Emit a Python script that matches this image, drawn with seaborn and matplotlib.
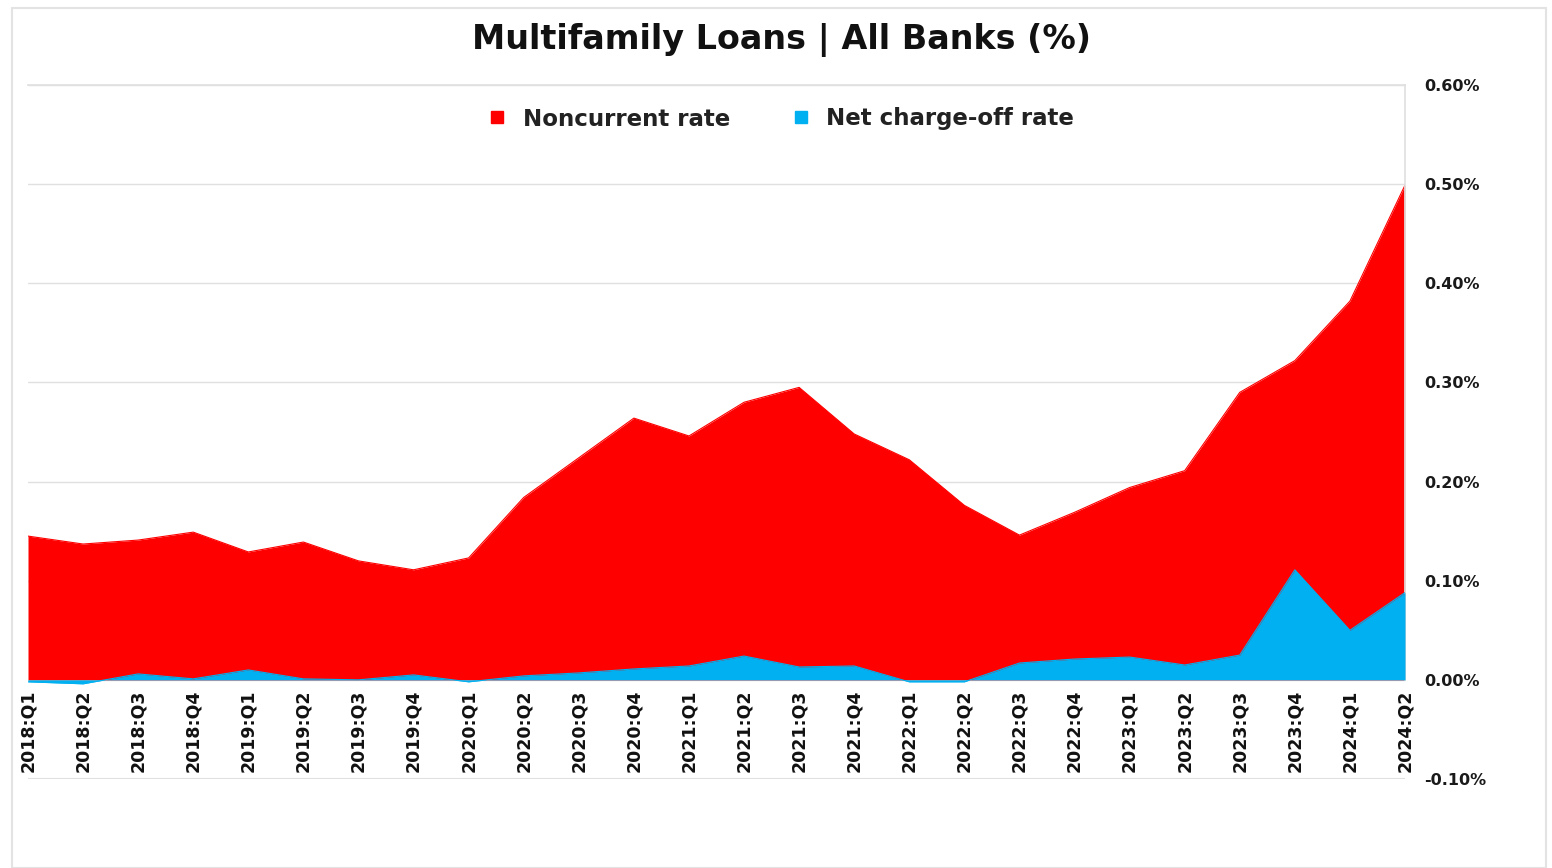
import matplotlib
matplotlib.use("Agg")
import matplotlib.pyplot as plt
from matplotlib.patches import Rectangle
from matplotlib.ticker import FuncFormatter, MultipleLocator
import seaborn as sns
import pandas as pd

quarters = [
    "2018:Q1", "2018:Q2", "2018:Q3", "2018:Q4",
    "2019:Q1", "2019:Q2", "2019:Q3", "2019:Q4",
    "2020:Q1", "2020:Q2", "2020:Q3", "2020:Q4",
    "2021:Q1", "2021:Q2", "2021:Q3", "2021:Q4",
    "2022:Q1", "2022:Q2", "2022:Q3", "2022:Q4",
    "2023:Q1", "2023:Q2", "2023:Q3", "2023:Q4",
    "2024:Q1", "2024:Q2",
]
noncurrent_rate = [
    0.145, 0.137, 0.141, 0.149,
    0.129, 0.139, 0.120, 0.111,
    0.123, 0.184, 0.224, 0.264,
    0.246, 0.280, 0.295, 0.248,
    0.222, 0.176, 0.146, 0.169,
    0.194, 0.211, 0.290, 0.322,
    0.382, 0.499,
]
net_charge_off_rate = [
    -0.002, -0.004, 0.006, 0.001,
    0.010, 0.001, 0.000, 0.005,
    -0.002, 0.004, 0.007, 0.011,
    0.014, 0.024, 0.013, 0.014,
    -0.002, -0.002, 0.017, 0.021,
    0.023, 0.015, 0.025, 0.111,
    0.050, 0.088,
]

RED = "#FF0000"
BLUE = "#00B0F0"

df = pd.DataFrame({
    "quarter": quarters,
    "pos": range(len(quarters)),
    "Noncurrent rate": noncurrent_rate,
    "Net charge-off rate": net_charge_off_rate,
})

sns.set_theme(style="white")
plt.rcParams["font.family"] = ["DejaVu Sans"]

fig = plt.figure(figsize=(15.52, 8.68), dpi=100)
fig.patches.append(Rectangle((12 / 1552, 0), 1534 / 1552, 1 - 8 / 868,
                             transform=fig.transFigure, fill=False,
                             edgecolor="#E3E3E3", linewidth=1.5))
ax = fig.add_axes([28 / 1552, 1 - 779 / 868, (1405 - 28) / 1552, (779 - 85) / 868])

# Category labels sit on the zero line, so move the bottom spine first
ax.spines["bottom"].set_position(("data", 0))
ax.spines["bottom"].set_visible(False)
ax.spines["left"].set_visible(False)
for side in ["top", "right"]:
    ax.spines[side].set_color("#E0E0E0")
ax.spines["right"].set_bounds(0, 0.6)

# Filled areas from zero, charge-offs drawn on top
ax.fill_between(df["pos"], 0, df["Noncurrent rate"], color=RED, linewidth=0, zorder=2)
ax.fill_between(df["pos"], 0, df["Net charge-off rate"], color=BLUE, linewidth=0, zorder=3)
sns.lineplot(data=df, x="pos", y="Noncurrent rate", ax=ax, color=RED, linewidth=0.8, zorder=2)
sns.lineplot(data=df, x="pos", y="Net charge-off rate", ax=ax, color=BLUE, linewidth=0.8, zorder=3)

ax.set_xlim(0, len(quarters) - 1)
ax.set_ylim(-0.1, 0.6)
ax.set_xlabel("")
ax.set_ylabel("")

ax.yaxis.set_major_locator(MultipleLocator(0.1))
ax.yaxis.tick_right()
ax.yaxis.set_major_formatter(FuncFormatter(lambda v, _: f"{v:.2f}%"))
ax.tick_params(axis="y", length=0, pad=14, labelsize=11.5, labelcolor="#1a1a1a")
for lbl in ax.get_yticklabels():
    lbl.set_fontweight("bold")
ax.grid(axis="y", color="#E0E0E0", linewidth=1, zorder=0)
ax.axhline(-0.1, color="#E0E0E0", linewidth=1.5, zorder=1)

ax.set_xticks(list(df["pos"]))
ax.set_xticklabels(quarters, rotation=90, fontweight="bold", fontsize=12.5, color="#111111")
ax.tick_params(axis="x", length=0, pad=7)

fig.text(782 / 1552, 1 - 40 / 868, "Multifamily Loans | All Banks (%)",
         ha="center", va="center", fontsize=24, fontweight="bold", color="#111111")

handles = [
    plt.Line2D([], [], marker="s", linestyle="", color=RED, markersize=9),
    plt.Line2D([], [], marker="s", linestyle="", color=BLUE, markersize=9),
]
fig.legend(handles, ["Noncurrent rate", "Net charge-off rate"],
           loc="center", bbox_to_anchor=(780 / 1552, 1 - 119 / 868), ncol=2,
           frameon=False, prop={"weight": "bold", "size": 16.5},
           handletextpad=0.6, columnspacing=2.6, handlelength=1.0,
           labelcolor="#222222")

fig.savefig("out.png", dpi=100, facecolor="white")
